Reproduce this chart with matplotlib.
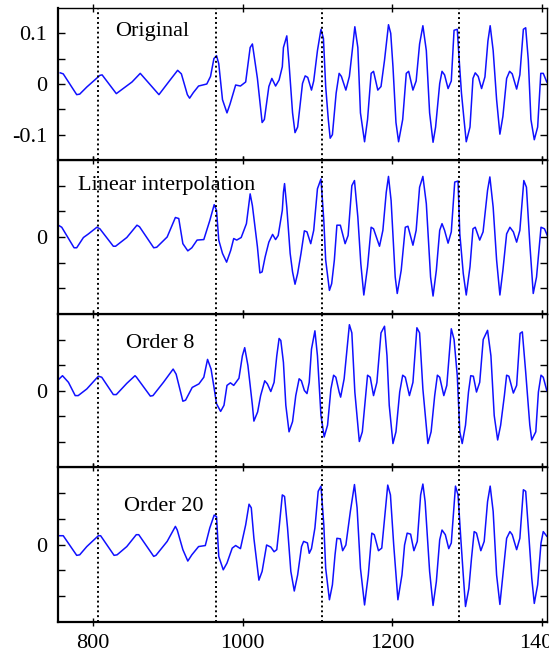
import matplotlib
matplotlib.use('Agg')
import matplotlib.pyplot as plt

plt.rcParams['font.family'] = 'Liberation Serif'

# sample positions / values
orig_x = [756, 760, 778, 782, 791.5, 809, 812, 831, 852, 863, 888, 903, 913, 918, 926, 929, 934, 941,
          952, 957, 961.5, 965, 968, 973, 979, 983, 990.6, 997, 1004, 1010, 1013, 1019.7, 1026, 1029,
          1035, 1039, 1044, 1048.7, 1053, 1054.5, 1059, 1062, 1066.7, 1070, 1073.5, 1080, 1083.6, 1087,
          1092, 1095, 1100, 1104.7, 1108, 1111, 1114.5, 1117, 1120, 1125, 1129, 1132, 1138, 1142.7,
          1147, 1150, 1154, 1157.5, 1163, 1167, 1171.8, 1175, 1180.7, 1185, 1189.7, 1195, 1198, 1201,
          1205, 1208.5, 1214, 1218.8, 1222, 1227.7, 1232, 1236.6, 1241, 1245.6, 1250, 1254.6, 1258,
          1263.5, 1266.6, 1270, 1274.7, 1279, 1282.7, 1287, 1289, 1292.6, 1296, 1299, 1304, 1308,
          1311, 1315, 1319.5, 1324, 1328, 1331, 1335, 1339.6, 1344, 1348, 1353, 1357, 1360.5, 1366.4,
          1370.7, 1375.4, 1378.5, 1382, 1385.5, 1390, 1394.5, 1398.7, 1402, 1406.7]
orig_y = [0.022, 0.02, -0.021, -0.02, -0.006, 0.017, 0.018, -0.019, 0.004, 0.021, -0.021, 0.008, 0.027,
          0.02, -0.021, -0.028, -0.017, -0.004, 0.0, 0.015, 0.05, 0.056, 0.04, -0.031, -0.057, -0.04,
          -0.002, -0.004, 0.004, 0.072, 0.079, 0.011, -0.076, -0.07, -0.005, 0.011, -0.004, 0.008,
          0.034, 0.072, 0.095, 0.04, -0.057, -0.096, -0.085, 0.001, 0.016, 0.013, -0.012, 0.006, 0.066,
          0.108, 0.09, -0.005, -0.07, -0.107, -0.1, -0.018, 0.021, 0.015, -0.012, 0.015, 0.072, 0.113,
          0.072, -0.057, -0.114, -0.07, 0.021, 0.025, -0.012, -0.005, 0.047, 0.117, 0.1, 0.034, -0.076,
          -0.114, -0.07, 0.021, 0.025, -0.012, 0.006, 0.079, 0.115, 0.066, -0.057, -0.115, -0.085,
          0.001, 0.025, 0.018, -0.009, 0.006, 0.106, 0.108, 0.06, -0.018, -0.07, -0.114, -0.085, 0.011,
          0.022, 0.015, -0.009, 0.014, 0.085, 0.115, 0.066, -0.031, -0.099, -0.064, 0.011, 0.025, 0.02,
          -0.01, 0.018, 0.108, 0.111, 0.047, -0.07, -0.11, -0.085, 0.021, 0.021, 0.004]

lin_x = [753.4, 758, 774.5, 778, 787, 793.7, 805, 809, 827, 830, 845, 858.6, 862, 881, 885, 899, 910,
         914.5, 920, 926.6, 932, 939, 948, 956, 961.9, 965, 968, 973, 978.5, 984, 988, 992, 998, 1005,
         1010, 1013, 1019.7, 1023, 1026, 1030, 1035, 1040, 1044, 1047.5, 1053, 1054.5, 1056, 1059,
         1063.5, 1066.7, 1070, 1073.5, 1078, 1082.5, 1086, 1091, 1095, 1100, 1104.7, 1108.5, 1111,
         1116, 1119, 1122.6, 1126, 1130.6, 1137, 1141, 1146, 1149.5, 1154, 1158, 1162, 1167, 1171.8,
         1175, 1183, 1187.5, 1192, 1195, 1198.5, 1204, 1206.7, 1212, 1217.5, 1221, 1227.7, 1232,
         1236.6, 1241, 1245.6, 1251.3, 1254.6, 1259, 1263.5, 1266.6, 1270, 1274.7, 1279, 1283.6, 1288,
         1290.4, 1295, 1299, 1304, 1308, 1311, 1317, 1321.5, 1327.5, 1330.6, 1335, 1339.6, 1344, 1348,
         1353, 1357.4, 1362, 1366.4, 1370.7, 1376, 1379.5, 1384, 1388.6, 1393, 1399, 1403.6, 1408]
lin_y = [0.023, 0.019, -0.021, -0.021, -0.001, 0.006, 0.019, 0.016, -0.018, -0.018, -0.001, 0.023,
         0.02, -0.021, -0.02, 0.0, 0.038, 0.036, -0.013, -0.027, -0.021, -0.006, -0.005, 0.032, 0.063,
         0.052, -0.006, -0.032, -0.049, -0.026, -0.003, -0.006, -0.001, 0.026, 0.084, 0.061, -0.019,
         -0.07, -0.068, -0.039, -0.01, 0.005, -0.005, 0.003, 0.052, 0.087, 0.104, 0.058, -0.032,
         -0.068, -0.092, -0.071, -0.032, 0.012, 0.01, -0.013, 0.013, 0.094, 0.113, 0.032, -0.045,
         -0.104, -0.091, -0.045, 0.023, 0.023, -0.013, 0.003, 0.1, 0.11, 0.039, -0.052, -0.113,
         -0.058, 0.019, 0.016, -0.018, 0.013, 0.087, 0.118, 0.071, -0.078, -0.11, -0.065, 0.019,
         0.021, -0.016, 0.013, 0.097, 0.118, 0.065, -0.078, -0.115, -0.065, 0.013, 0.026, 0.013,
         -0.012, 0.01, 0.107, 0.109, 0.006, -0.071, -0.113, -0.058, 0.016, 0.019, -0.006, 0.01,
         0.091, 0.117, 0.058, -0.045, -0.113, -0.065, 0.006, 0.019, 0.01, -0.01, 0.013, 0.11, 0.097,
         -0.013, -0.11, -0.078, 0.019, 0.016, 0.001]

o8_x = [752, 759, 767, 776, 780, 791.5, 807, 811.5, 827, 831, 845, 856, 858, 876.5, 880, 894, 907,
        911, 920, 923.6, 932.5, 941.5, 948, 953, 957.7, 962, 965, 970.5, 975, 979, 983.6, 988, 995,
        999.6, 1002.7, 1007, 1013, 1015, 1020, 1024, 1029.5, 1033, 1037.6, 1042, 1045.6, 1048.7,
        1051, 1054.5, 1057.7, 1062, 1066.7, 1071, 1075.5, 1078.5, 1082.5, 1086, 1089, 1092, 1096.6,
        1100, 1104.7, 1109, 1113.5, 1118, 1121.6, 1124.6, 1129, 1131, 1135.7, 1139, 1142.7, 1146,
        1150, 1156, 1160, 1165, 1167, 1170.6, 1175, 1179.5, 1185, 1189.7, 1193, 1196, 1201, 1205,
        1210, 1214, 1217.5, 1223, 1227.7, 1233, 1236.6, 1241, 1247.7, 1252, 1256.8, 1260.4, 1263.5,
        1269, 1273, 1279, 1282.7, 1287, 1290.4, 1293.6, 1298, 1302, 1305, 1308.5, 1312.7, 1317,
        1321.7, 1327.5, 1332, 1336.4, 1341, 1345, 1350, 1353, 1356, 1362, 1366.4, 1371, 1374,
        1378.5, 1384, 1386.6, 1392, 1395.5, 1399, 1402, 1406.7]
o8_y = [0.019, 0.029, 0.016, -0.01, -0.01, 0.003, 0.028, 0.026, -0.008, -0.008, 0.014, 0.029, 0.026,
        -0.011, -0.01, 0.016, 0.042, 0.032, -0.021, -0.019, 0.006, 0.013, 0.026, 0.061, 0.042, 0.003,
        -0.026, -0.041, -0.029, 0.01, 0.015, 0.01, 0.024, 0.068, 0.084, 0.049, -0.029, -0.06, -0.042,
        -0.01, 0.019, 0.013, -0.002, 0.016, 0.068, 0.102, 0.098, 0.055, -0.029, -0.081, -0.061, -0.01,
        0.023, 0.019, 0.0, -0.006, 0.016, 0.081, 0.117, 0.068, -0.049, -0.091, -0.068, 0.003, 0.03,
        0.026, -0.003, -0.013, 0.023, 0.074, 0.129, 0.113, -0.003, -0.1, -0.081, -0.003, 0.03, 0.026,
        -0.01, 0.016, 0.113, 0.126, 0.068, -0.029, -0.104, -0.081, -0.003, 0.03, 0.026, -0.01, 0.016,
        0.123, 0.113, 0.003, -0.104, -0.081, -0.01, 0.03, 0.026, -0.01, 0.01, 0.121, 0.1, 0.029,
        -0.081, -0.104, -0.068, -0.003, 0.029, 0.028, -0.003, 0.016, 0.1, 0.118, 0.068, -0.049,
        -0.097, -0.068, -0.01, 0.03, 0.028, -0.005, 0.01, 0.112, 0.115, 0.036, -0.068, -0.097,
        -0.081, -0.003, 0.03, 0.026, 0.0]

o20_x = [753.4, 760, 778, 782, 791.5, 807, 810, 828, 832, 845, 857.7, 861, 881, 884, 899, 910, 912.5,
         920, 926.6, 932, 941, 950, 956, 961.9, 965, 968, 974, 979, 986, 990.6, 997, 1004, 1008.5,
         1011.5, 1015, 1021.7, 1026, 1032, 1037.6, 1042, 1045.6, 1048.7, 1053, 1056, 1060, 1064.4,
         1069, 1073.5, 1078.7, 1081.5, 1086.6, 1089, 1092, 1096.6, 1101, 1104.7, 1108.5, 1111, 1116,
         1120, 1123.5, 1126, 1130.6, 1133.7, 1138, 1144, 1149.5, 1153, 1157.5, 1163, 1168, 1172.7,
         1176, 1181.6, 1186, 1190.6, 1194, 1197.6, 1202, 1207.6, 1213, 1216.5, 1220, 1224.6, 1229,
         1233.5, 1238, 1241, 1244, 1250, 1254.6, 1259, 1263.5, 1266.6, 1271, 1275.6, 1279, 1284.6,
         1288, 1291.7, 1295, 1298, 1302.5, 1306, 1309.6, 1312.7, 1318.5, 1323, 1327.5, 1331, 1335,
         1339.6, 1344, 1348, 1353, 1357.4, 1360.5, 1366.4, 1370.7, 1375.4, 1378.5, 1382, 1386.6,
         1390, 1394.5, 1399, 1402, 1406.7]
o20_y = [0.017, 0.017, -0.021, -0.02, -0.004, 0.017, 0.017, -0.021, -0.02, -0.004, 0.019, 0.019,
         -0.023, -0.021, 0.006, 0.035, 0.028, -0.01, -0.032, -0.02, -0.004, -0.002, 0.032, 0.057,
         0.054, -0.023, -0.049, -0.036, -0.007, -0.002, -0.008, 0.038, 0.078, 0.071, 0.012, -0.069,
         -0.052, -0.001, -0.005, -0.014, -0.01, 0.032, 0.096, 0.093, 0.032, -0.052, -0.09, -0.059,
         -0.004, 0.006, 0.003, -0.017, -0.008, 0.032, 0.103, 0.113, 0.038, -0.046, -0.107, -0.078,
         -0.02, 0.012, 0.011, -0.012, -0.001, 0.064, 0.116, 0.071, -0.046, -0.117, -0.059, 0.022,
         0.019, -0.012, -0.007, 0.064, 0.115, 0.096, -0.001, -0.107, -0.059, -0.001, 0.022, 0.02,
         -0.012, 0.006, 0.096, 0.117, 0.083, -0.052, -0.118, -0.072, 0.009, 0.028, 0.019, -0.008,
         0.003, 0.113, 0.096, 0.012, -0.059, -0.12, -0.085, -0.027, 0.025, 0.022, -0.012, 0.006,
         0.083, 0.113, 0.064, -0.059, -0.116, -0.059, 0.012, 0.025, 0.019, -0.01, 0.012, 0.106, 0.103,
         0.032, -0.065, -0.114, -0.078, 0.003, 0.025, 0.016]

titles = ['Original', 'Linear interpolation', 'Order 8', 'Order 20']
title_pos = [(879, 0.103), (898, 0.100), (889, 0.093), (894, 0.074)]
markers = [807, 964, 1105.5, 1289]
xtick_vals = [800, 1000, 1200, 1400]
ytick_vals = [-0.1, -0.05, 0, 0.05, 0.1]

series = [(orig_x, orig_y), (lin_x, lin_y), (o8_x, o8_y), (o20_x, o20_y)]

fig = plt.figure(figsize=(5.49, 6.53), dpi=100)
W, H = 549.0, 653.0
tops = [8, 160, 314, 467]
bots = [160, 314, 467, 622]
left, right = 58, 547

for i in range(4):
    ax = fig.add_axes([left / W, 1 - bots[i] / H, (right - left) / W, (bots[i] - tops[i]) / H])
    xs, ys = series[i]
    ax.plot(xs, ys, color='#1010ff', lw=1.1)
    for m in markers:
        ax.axvline(m, color='black', lw=1.4, ls=(0, (1, 1.5)))
    ax.set_xlim(753, 1407)
    ax.set_ylim(-0.15, 0.15)
    ax.set_xticks(xtick_vals)
    ax.set_yticks(ytick_vals)
    if i == 0:
        ax.set_yticklabels(['-0.1', '', '0', '', '0.1'])
    else:
        ax.set_yticklabels(['', '', '0', '', ''])
    if i == 3:
        ax.set_xticklabels([str(v) for v in xtick_vals])
    else:
        ax.set_xticklabels([])
    ax.tick_params(axis='y', direction='in', left=True, right=True, length=5, width=1,
                   labelsize=16, pad=8)
    ax.tick_params(axis='x', direction='inout', top=True, bottom=True, length=6, width=1,
                   labelsize=16, pad=6)
    for side in ['left', 'bottom']:
        ax.spines[side].set_linewidth(1.6)
    for side in ['right', 'top']:
        ax.spines[side].set_linewidth(1.0)
    tx, ty = title_pos[i]
    ax.text(tx, ty, titles[i], ha='center', va='center', fontsize=16)

fig.savefig('out.png', dpi=100)
